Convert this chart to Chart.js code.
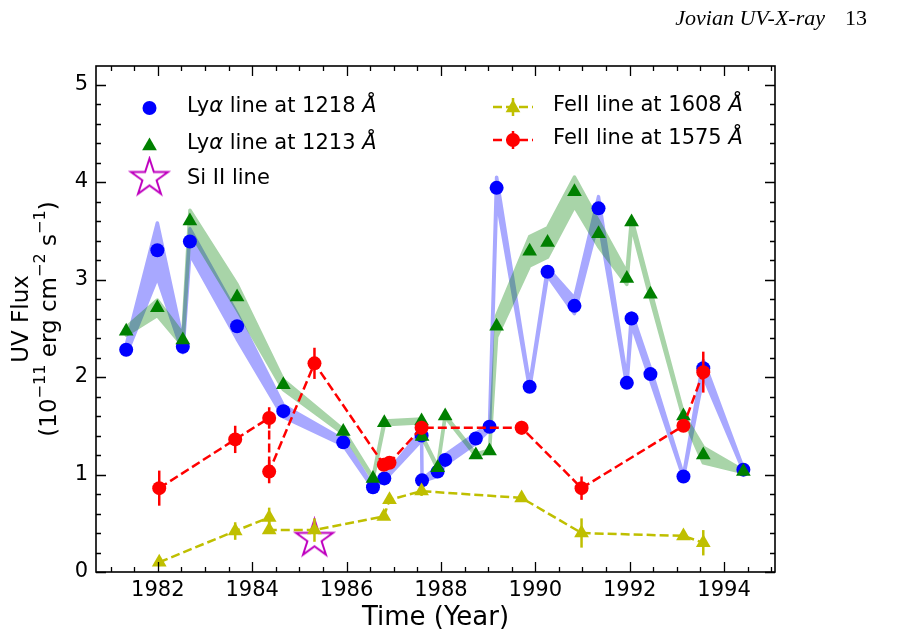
<!DOCTYPE html>
<html>
<head>
<meta charset="utf-8">
<title>Jovian UV flux</title>
<script src="https://cdn.jsdelivr.net/npm/chart.js@4.4.1/dist/chart.umd.min.js"></script>
<style>
  html, body { margin: 0; padding: 0; background: #ffffff; }
  #wrap { width: 898px; height: 639px; }
</style>
</head>
<body>
<div id="wrap"><canvas id="uvChart" width="898" height="639"></canvas></div>
<script>
// ------------------------------------------------------------------
//   Data (flux in 1e-11 erg cm^-2 s^-1)
// ------------------------------------------------------------------

// Lyman alpha epochs
const lyaYears = [1981.33, 1981.99, 1982.53, 1982.68, 1983.68, 1984.66, 1985.93, 1986.56, 1986.80,
                  1987.59, 1987.60, 1987.93, 1988.09, 1988.74, 1989.03, 1989.18, 1989.88, 1990.26,
                  1990.83, 1991.34, 1991.94, 1992.04, 1992.44, 1993.14, 1993.56, 1994.41];

// Lya line at 1218 A (blue)
const lya1218    = [2.28, 3.30, 2.31, 3.39, 2.52, 1.65, 1.33, 0.87, 0.96, 1.40, 0.94, 1.03, 1.15,
                    1.37, 1.49, 3.94, 1.90, 3.08, 2.73, 3.73, 1.94, 2.60, 2.03, 0.98, 2.09, 1.05];
const lya1218Err = [0.05, 0.28, 0.06, 0.13, 0.13, 0.06, 0.03, 0.01, 0.02, 0.05, 0.01, 0.05, 0.05,
                    0.05, 0.03, 0.11, 0.02, 0.04, 0.08, 0.12, 0.03, 0.06, 0.06, 0.01, 0.08, 0.01];

// Lya line at 1213 A (green)
const lya1213    = [2.47, 2.71, 2.38, 3.60, 2.82, 1.92, 1.44, 0.96, 1.53, 1.55, 1.39, 1.07, 1.60,
                    1.20, 1.24, 2.52, 3.29, 3.38, 3.90, 3.47, 3.01, 3.59, 2.85, 1.60, 1.20, 1.03];
const lya1213Err = [0.04, 0.08, 0.06, 0.11, 0.13, 0.05, 0.02, 0.01, 0.02, 0.02, 0.01, 0.01, 0.01,
                    0.01, 0.01, 0.11, 0.15, 0.15, 0.15, 0.13, 0.06, 0.04, 0.04, 0.02, 0.08, 0.01];

// FeII epochs
const feYears  = [1982.03, 1983.64, 1984.36, 1984.36, 1985.32, 1986.79, 1986.91, 1987.59,
                  1989.71, 1990.98, 1993.14, 1993.56];

// FeII line at 1575 A (red)
const fe1575    = [0.86, 1.36, 1.58, 1.03, 2.14, 1.10, 1.12, 1.48, 1.48, 0.86, 1.50, 2.05];
const fe1575Err = [0.18, 0.14, 0.11, 0.12, 0.16, 0.05, 0.05, 0.07, 0.07, 0.12, 0.04, 0.21];

// FeII line at 1608 A (yellow)
const fe1608    = [0.10, 0.42, 0.56, 0.43, 0.43, 0.57, 0.74, 0.83, 0.76, 0.40, 0.37, 0.30];
const fe1608Err = [0.04, 0.09, 0.10, 0.04, 0.12, 0.03, 0.03, 0.05, 0.03, 0.15, 0.04, 0.13];

// Si II line
const siYears = [1985.32];
const siFlux  = [0.34];

// axis ticks
const xTicks = [1982, 1984, 1986, 1988, 1990, 1992, 1994];
const yTicks = [0, 1, 2, 3, 4, 5];

// ------------------------------------------------------------------

const BLUE = '#0000ff';
const GREEN = '#008000';
const RED = '#ff0000';
const YELLOW = '#bfbf00';
const MAGENTA = '#bf00bf';
const FONT = "'DejaVu Sans', sans-serif";
const BAND_ALPHA = 0.34;

function pts(xs, ys) {
    return xs.map((x, i) => ({ x: x, y: ys[i] }));
}

// hollow five pointed star used as marker
function makeStar(r, color, lw) {
    const c = document.createElement('canvas');
    const s = Math.ceil(2 * r + 2 * lw + 2);
    c.width = s;
    c.height = s;
    const g = c.getContext('2d');
    g.translate(s / 2, s / 2);
    g.beginPath();
    for (let i = 0; i < 10; i++) {
        const rr = i % 2 ? r * 0.382 : r;
        const a = -Math.PI / 2 + i * Math.PI / 5;
        g.lineTo(rr * Math.cos(a), rr * Math.sin(a));
    }
    g.closePath();
    g.strokeStyle = color;
    g.lineWidth = lw;
    g.stroke();
    return c;
}
const starImg = makeStar(19.5, MAGENTA, 2);

// translucent error bands (fill + outline painted opaque offscreen, then blended once)
const bandLayer = {
    id: 'bandLayer',
    beforeDatasetsDraw(chart) {
        const { ctx, chartArea: a, scales: { x, y } } = chart;
        chart.data.datasets.forEach(ds => {
            if (!ds.bandErr) return;
            const off = document.createElement('canvas');
            off.width = chart.width;
            off.height = chart.height;
            const g = off.getContext('2d');
            const up = ds.data.map((p, i) => [x.getPixelForValue(p.x), y.getPixelForValue(p.y + ds.bandErr[i])]);
            const lo = ds.data.map((p, i) => [x.getPixelForValue(p.x), y.getPixelForValue(p.y - ds.bandErr[i])]);
            g.beginPath();
            up.forEach((q, i) => i ? g.lineTo(q[0], q[1]) : g.moveTo(q[0], q[1]));
            lo.reverse().forEach(q => g.lineTo(q[0], q[1]));
            g.closePath();
            g.fillStyle = ds.bandColor;
            g.fill();
            g.strokeStyle = ds.bandColor;
            g.lineWidth = 3.5;
            g.lineJoin = 'round';
            g.stroke();

            ctx.save();
            ctx.beginPath();
            ctx.rect(a.left, a.top, a.right - a.left, a.bottom - a.top);
            ctx.clip();
            ctx.globalAlpha = BAND_ALPHA;
            ctx.drawImage(off, 0, 0);
            ctx.restore();
        });
    }
};

// vertical error bars, drawn under the markers
const errorBars = {
    id: 'errorBars',
    beforeDatasetDraw(chart, args) {
        const ds = chart.data.datasets[args.index];
        if (!ds.yErr) return;
        const { ctx, scales: { x, y } } = chart;
        ctx.save();
        ctx.strokeStyle = ds.borderColor;
        ctx.lineWidth = 2.5;
        ds.data.forEach((p, i) => {
            const e = ds.yErr[i];
            const px = x.getPixelForValue(p.x);
            ctx.beginPath();
            ctx.moveTo(px, y.getPixelForValue(p.y - e));
            ctx.lineTo(px, y.getPixelForValue(p.y + e));
            ctx.stroke();
        });
        ctx.restore();
    }
};

// box around the plot with inward ticks on all four sides
const frameTicks = {
    id: 'frameTicks',
    afterDatasetsDraw(chart) {
        const { ctx, chartArea: a, scales: { x, y } } = chart;
        ctx.save();
        ctx.strokeStyle = '#000';
        ctx.lineWidth = 1.3;
        ctx.beginPath();
        for (let k = 1981; k <= 1995; k += 0.5) {
            if (k < x.min || k > x.max) continue;
            const px = Math.round(x.getPixelForValue(k)) + 0.5;
            const len = (k % 2 === 0) ? 10 : 5;
            ctx.moveTo(px, a.bottom); ctx.lineTo(px, a.bottom - len);
            ctx.moveTo(px, a.top); ctx.lineTo(px, a.top + len);
        }
        for (let k = 0; k <= 26; k++) {
            const v = k * 0.2;
            if (v > y.max) continue;
            const py = Math.round(y.getPixelForValue(v)) + 0.5;
            const len = (k % 5 === 0) ? 10 : 5;
            ctx.moveTo(a.left, py); ctx.lineTo(a.left + len, py);
            ctx.moveTo(a.right, py); ctx.lineTo(a.right - len, py);
        }
        ctx.stroke();
        ctx.lineWidth = 1.6;
        ctx.strokeRect(a.left, a.top, a.right - a.left, a.bottom - a.top);
        ctx.restore();
    }
};

// draws a line of text made of pieces: [text, italic, superscript]
function richWidth(ctx, parts, size) {
    let w = 0;
    parts.forEach(p => {
        ctx.font = (p[1] ? 'italic ' : '') + (p[2] ? size * 0.7 : size) + 'px ' + FONT;
        w += ctx.measureText(p[0]).width;
    });
    return w;
}
function richText(ctx, x, y, parts, size) {
    let cx = x;
    parts.forEach(p => {
        const s = p[2] ? size * 0.7 : size;
        ctx.font = (p[1] ? 'italic ' : '') + s + 'px ' + FONT;
        ctx.fillText(p[0], cx, p[2] ? y - size * 0.38 : y);
        cx += ctx.measureText(p[0]).width;
    });
}

function triangle(ctx, cx, cy, r, color) {
    ctx.fillStyle = color;
    ctx.beginPath();
    for (let i = 0; i < 3; i++) {
        const a = -Math.PI / 2 + i * 2 * Math.PI / 3;
        ctx.lineTo(cx + r * Math.cos(a), cy + r * Math.sin(a));
    }
    ctx.closePath();
    ctx.fill();
}

// two column legend, y axis title and page header
const sideText = {
    id: 'sideText',
    afterDraw(chart) {
        const ctx = chart.ctx;
        const a = chart.chartArea;
        ctx.save();
        ctx.textBaseline = 'middle';
        ctx.textAlign = 'left';

        // left column
        ctx.fillStyle = BLUE;
        ctx.beginPath(); ctx.arc(149.5, 108, 7, 0, Math.PI * 2); ctx.fill();
        triangle(ctx, 149.5, 146, 8.5, GREEN);
        ctx.drawImage(starImg, 149.5 - starImg.width / 2, 178 - starImg.height / 2);

        ctx.fillStyle = '#000';
        richText(ctx, 187, 107, [['Ly'], ['α', 1], [' line at 1218 '], ['Å', 1]], 21);
        richText(ctx, 187, 144, [['Ly'], ['α', 1], [' line at 1213 '], ['Å', 1]], 21);
        richText(ctx, 187, 179, [['Si II line']], 21);

        // right column: dashed line, error bar and marker
        const rows = [[107, YELLOW, 'tri', '1608'], [140, RED, 'dot', '1575']];
        rows.forEach(r => {
            ctx.strokeStyle = r[1];
            ctx.lineWidth = 2.5;
            ctx.setLineDash([9, 4]);
            ctx.beginPath(); ctx.moveTo(493, r[0]); ctx.lineTo(533, r[0]); ctx.stroke();
            ctx.setLineDash([]);
            ctx.beginPath(); ctx.moveTo(513, r[0] - 9); ctx.lineTo(513, r[0] + 9); ctx.stroke();
            if (r[2] === 'tri') {
                triangle(ctx, 513, r[0] + 1, 8.5, r[1]);
            } else {
                ctx.fillStyle = r[1];
                ctx.beginPath(); ctx.arc(513, r[0], 7, 0, Math.PI * 2); ctx.fill();
            }
            ctx.fillStyle = '#000';
            richText(ctx, 553, r[0] - 1, [['FeII line at ' + r[3] + ' '], ['Å', 1]], 21);
        });

        // y axis title, two rotated lines
        const cy = (a.top + a.bottom) / 2;
        const lines = [
            [22, [['UV Flux']]],
            [50, [['(10'], ['−11', 0, 1], [' erg cm'], ['−2', 0, 1], [' s'], ['−1', 0, 1], [')']]]
        ];
        lines.forEach(l => {
            ctx.save();
            ctx.translate(l[0], cy);
            ctx.rotate(-Math.PI / 2);
            const w = richWidth(ctx, l[1], 23);
            richText(ctx, -w / 2, 0, l[1], 23);
            ctx.restore();
        });

        // running header of the paper page
        ctx.fillStyle = '#000';
        ctx.textBaseline = 'alphabetic';
        ctx.font = "italic 22px 'Liberation Serif', serif";
        ctx.textAlign = 'right';
        ctx.fillText('Jovian UV-X-ray', 825, 25);
        ctx.font = "22px 'Liberation Serif', serif";
        ctx.textAlign = 'left';
        ctx.fillText('13', 845, 25);
        ctx.restore();
    }
};

const ctx = document.getElementById('uvChart').getContext('2d');

const uvChart = new Chart(ctx, {
    type: 'line',
    data: {
        datasets: [
            {   // FeII 1575
                label: 'FeII line at 1575 Å',
                data: pts(feYears, fe1575),
                yErr: fe1575Err,
                borderColor: RED,
                backgroundColor: RED,
                borderWidth: 2.5,
                borderDash: [9, 4],
                pointRadius: 7,
                pointBorderWidth: 0,
                fill: false,
                order: 1
            },
            {   // FeII 1608
                label: 'FeII line at 1608 Å',
                data: pts(feYears, fe1608),
                yErr: fe1608Err,
                borderColor: YELLOW,
                backgroundColor: YELLOW,
                borderWidth: 2.5,
                borderDash: [9, 4],
                pointStyle: 'triangle',
                pointRadius: 8.5,
                pointBorderWidth: 0,
                fill: false,
                order: 2
            },
            {   // Si II
                label: 'Si II line',
                data: pts(siYears, siFlux),
                showLine: false,
                pointStyle: starImg,
                order: 3
            },
            {
                label: 'Lyα line at 1213 Å',
                data: pts(lyaYears, lya1213),
                showLine: false,
                backgroundColor: GREEN,
                pointStyle: 'triangle',
                pointRadius: 8.5,
                pointBorderWidth: 0,
                order: 4
            },
            {
                label: 'Lyα line at 1218 Å',
                data: pts(lyaYears, lya1218),
                showLine: false,
                backgroundColor: BLUE,
                pointRadius: 7,
                pointBorderWidth: 0,
                order: 5
            },
            // bands: painted by bandLayer, blue first then green over it
            {
                data: pts(lyaYears, lya1218),
                bandErr: lya1218Err,
                bandColor: BLUE,
                showLine: false,
                pointRadius: 0,
                order: 6
            },
            {
                data: pts(lyaYears, lya1213),
                bandErr: lya1213Err,
                bandColor: GREEN,
                showLine: false,
                pointRadius: 0,
                order: 7
            }
        ]
    },
    options: {
        responsive: false,
        devicePixelRatio: 1,
        animation: false,
        events: [],
        layout: { padding: { top: 66, right: 123, left: 0, bottom: 0 } },
        elements: { line: { tension: 0 } },
        plugins: {
            legend: { display: false },
            tooltip: { enabled: false }
        },
        scales: {
            x: {
                type: 'linear',
                min: 1980.69,
                max: 1995.08,
                grid: { display: false, drawTicks: false },
                border: { display: false },
                afterBuildTicks: s => { s.ticks = xTicks.map(v => ({ value: v })); },
                afterFit: s => { s.height = 67; },
                ticks: {
                    color: '#000',
                    padding: 6,
                    maxRotation: 0,
                    font: { family: FONT, size: 21 },
                    callback: v => String(v)
                },
                title: {
                    display: true,
                    text: 'Time (Year)',
                    color: '#000',
                    font: { family: FONT, size: 26 },
                    padding: { top: 0, bottom: 5 }
                }
            },
            y: {
                type: 'linear',
                min: 0,
                max: 5.19,
                grid: { display: false, drawTicks: false },
                border: { display: false },
                afterBuildTicks: s => { s.ticks = yTicks.map(v => ({ value: v })); },
                afterFit: s => { s.width = 96; },
                ticks: {
                    color: '#000',
                    padding: 8,
                    font: { family: FONT, size: 21 },
                    callback: v => String(v)
                },
                title: { display: false }
            }
        }
    },
    plugins: [bandLayer, errorBars, frameTicks, sideText]
});
</script>
</body>
</html>
